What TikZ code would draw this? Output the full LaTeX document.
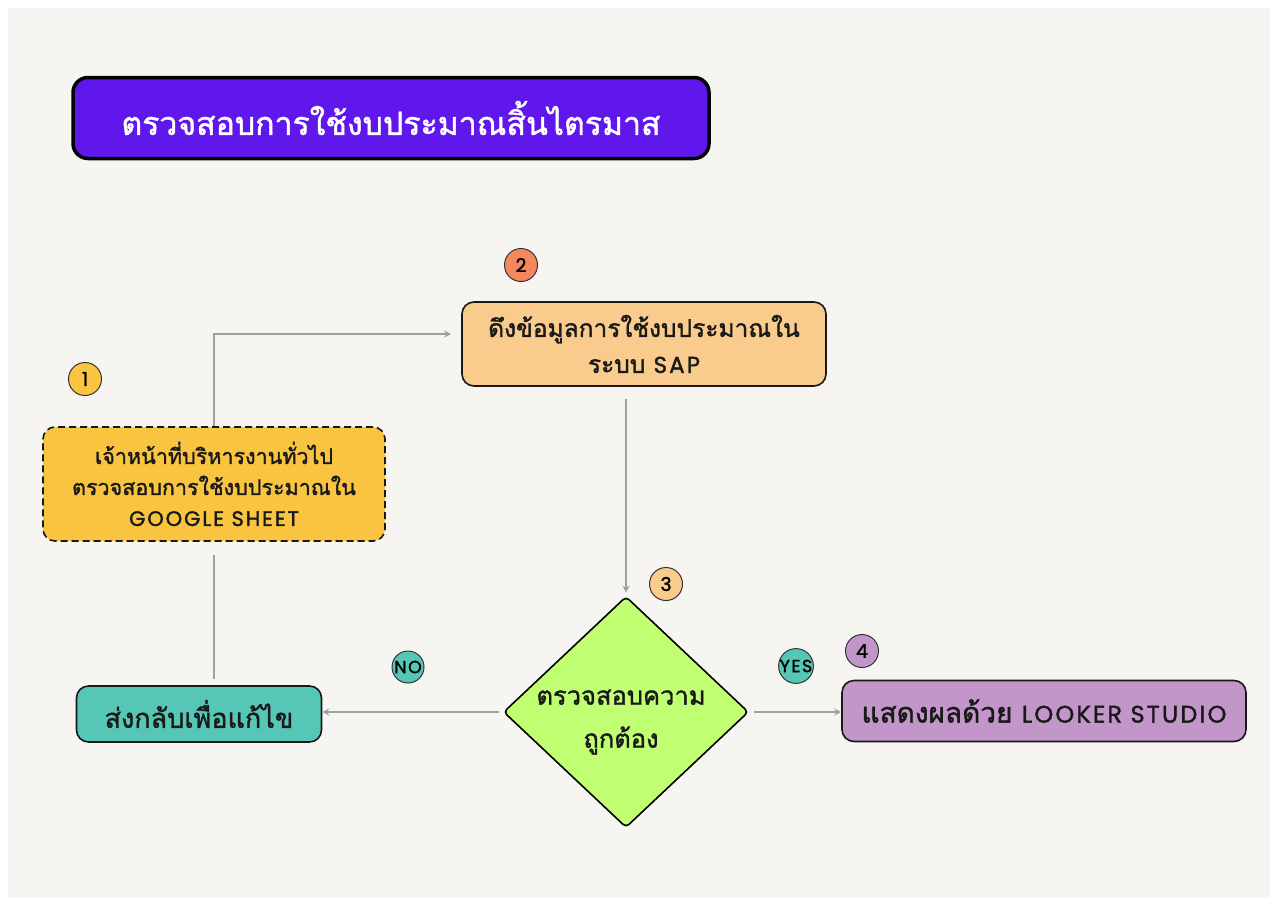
\documentclass[tikz,border=0pt]{standalone}
\usepackage{fontspec}
\setmainfont[Script=Thai, FakeBold=1.4]{Loma}
\newfontfamily\latin[FakeBold=1.5, LetterSpace=9]{Poppins}
\newcommand\lat[2]{{\latin\fontsize{#1}{#1}\selectfont #2}}
\usetikzlibrary{positioning,shapes.geometric,arrows.meta}

\definecolor{paper}{HTML}{F6F5F1}
\definecolor{titleviolet}{HTML}{5F17EB}
\definecolor{stepyellow}{HTML}{F9C440}
\definecolor{steppeach}{HTML}{F9CB8C}
\definecolor{steporange}{HTML}{F5875E}
\definecolor{steplime}{HTML}{C1FF72}
\definecolor{stepteal}{HTML}{56C7B6}
\definecolor{steplilac}{HTML}{C396C9}
\definecolor{linkgray}{HTML}{A0A0A0}

\tikzset{
  stepbox/.style={draw=black!90, line width=1.6pt, rounded corners=12pt,
    align=center, text=black!90, inner sep=0pt,
    font=\fontsize{21.5}{31}\selectfont},
  badge/.style={circle, draw=black!80, line width=1pt, minimum size=33pt,
    inner sep=0pt, font=\latin\fontsize{19}{19}\selectfont},
  link/.style={draw=linkgray, line width=1.6pt},
  linkarrow/.style={link, -{Stealth[length=7pt,width=7pt]}}
}

\begin{document}
\begin{tikzpicture}[x=1pt,y=-1pt]
\useasboundingbox (0,0) rectangle (1276,905);
\fill[white] (0,0) rectangle (1276,905);
\fill[paper] (8,8) rectangle (1270,898);

% title
\node (title) [stepbox, fill=titleviolet, draw=black, line width=3.5pt,
  rounded corners=15pt, minimum width=636pt, minimum height=81pt,
  text=white, font=\fontsize{32}{36}\selectfont] at (391,118)
  {ตรวจสอบการใช้งบประมาณสิ้นไตรมาส};

% steps
\node (check) [stepbox, fill=stepyellow, dashed, dash pattern=on 7pt off 4pt,
  minimum width=342pt, minimum height=114pt] at (214,484)
  {เจ้าหน้าที่บริหารงานทั่วไป\\ตรวจสอบการใช้งบประมาณใน\\\lat{21}{GOOGLE SHEET}};
\node (pull) [stepbox, fill=steppeach, minimum width=364pt, minimum height=84pt,
  font=\fontsize{24.5}{36}\selectfont] at (644,344)
  {ดึงข้อมูลการใช้งบประมาณใน\\ระบบ \lat{23}{SAP}};
\node (verify) [diamond, draw=black, line width=1.6pt, rounded corners=4pt,
  fill=steplime, aspect=1.06, minimum width=245pt, minimum height=231pt,
  inner sep=0pt] at (626,712) {};
\node (verifytext) [align=center, text=black!90,
  font=\fontsize{25.5}{43}\selectfont] at ([xshift=-5pt,yshift=-10pt]verify.center)
  {ตรวจสอบความ\\ถูกต้อง};
\node (back) [stepbox, fill=stepteal, minimum width=245pt, minimum height=56pt,
  font=\fontsize{27}{30}\selectfont] at (199,714) {ส่งกลับเพื่อแก้ไข};
\node (show) [stepbox, fill=steplilac, minimum width=404pt, minimum height=61pt,
  font=\fontsize{28}{30}\selectfont] at (1044,711)
  {แสดงผลด้วย \lat{24}{LOOKER STUDIO}};

% badges
\node (n1) [badge, fill=stepyellow] at (85,379) {1};
\node (n2) [badge, fill=steporange] at (521,265) {2};
\node (n3) [badge, fill=steppeach] at (666,584) {3};
\node (n4) [badge, fill=steplilac] at (862,651) {4};
\node (no) [badge, fill=stepteal, minimum size=32pt,
  font=\latin\fontsize{17.5}{17.5}\selectfont] at (408,667) {NO};
\node (yes) [badge, fill=stepteal, minimum size=34pt,
  font=\latin\fontsize{17.5}{17.5}\selectfont] at (796,666) {YES};

% connectors
\draw[linkarrow, shorten >=10pt] (check.north) |- ([yshift=10pt]pull.west);
\draw[linkarrow, shorten <=12pt, shorten >=3pt] (pull.south -| verify.north) -- (verify.north);
\draw[link, shorten <=13pt, shorten >=6pt] (check.south) -- (check.south |- back.north);
\draw[linkarrow, shorten <=4pt] (verify.west) -- (verify.west -| back.east);
\draw[linkarrow, shorten <=5pt] (verify.east) -- (verify.east -| show.west);
\end{tikzpicture}
\end{document}
